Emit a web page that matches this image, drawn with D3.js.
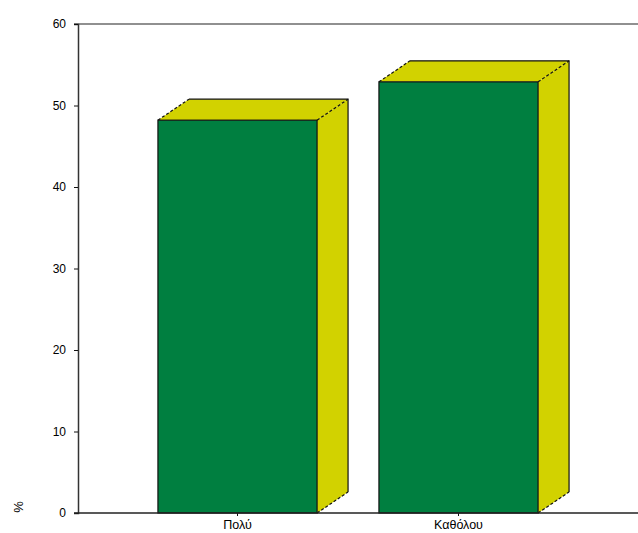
<!DOCTYPE html>
<html><head><meta charset="utf-8">
<script src="https://cdn.jsdelivr.net/npm/d3@7"></script>
<style>
html,body{margin:0;padding:0;background:#fff;}
svg{display:block;}
text{font-family:"Liberation Sans",Arial,sans-serif;fill:#000;}
</style></head>
<body>
<svg id="c" width="638" height="533"></svg>
<script>
const categories = ["Πολύ", "Καθόλου"];
const values = [48.2, 52.9];
const yTicks = [0, 10, 20, 30, 40, 50, 60];
const yLabel = "%";

const W = 638, H = 533;
const svg = d3.select("#c");
const x0 = 78, yTop = 24, yBottom = 513;
const depthX = 31, depthY = -21;

const x = d3.scaleBand().domain(categories).range([127, 569]).paddingInner(0.28).paddingOuter(0.14);
const y = d3.scaleLinear().domain([0, 60]).range([yBottom, yTop]);

// frame top line
svg.append("line").attr("x1", x0 - 4).attr("x2", W).attr("y1", yTop).attr("y2", yTop)
  .attr("stroke", "#222").attr("stroke-width", 1.2);

// bars
const g = svg.append("g");
categories.forEach((c, i) => {
  const xl = x(c), xr = x(c) + x.bandwidth();
  const yt = y(values[i]), yb = y(0);
  g.append("path")
    .attr("d", `M${xr},${yb} L${xr + depthX},${yb + depthY} L${xr + depthX},${yt + depthY} L${xr},${yt} Z`)
    .attr("fill", "#d2d200").attr("stroke", "none");
  g.append("path")
    .attr("d", `M${xl},${yt} L${xl + depthX},${yt + depthY} L${xr + depthX},${yt + depthY} L${xr},${yt} Z`)
    .attr("fill", "#d2d200").attr("stroke", "none");
  g.append("path")
    .attr("d", `M${xl + depthX},${yt + depthY} L${xr + depthX},${yt + depthY} L${xr + depthX},${yb + depthY}`)
    .attr("fill", "none").attr("stroke", "#111").attr("stroke-width", 1.2);
  [[xl, yt], [xr, yt], [xr, yb]].forEach(p => {
    g.append("line").attr("x1", p[0]).attr("y1", p[1])
      .attr("x2", p[0] + depthX).attr("y2", p[1] + depthY)
      .attr("stroke", "#111").attr("stroke-width", 1.2).attr("stroke-dasharray", "3,2");
  });
  g.append("rect").attr("x", xl).attr("y", yt).attr("width", x.bandwidth()).attr("height", yb - yt)
    .attr("fill", "#007f40").attr("stroke", "#111").attr("stroke-width", 1.2);
});

// y axis
const yAxis = svg.append("g").attr("transform", `translate(${x0},0)`)
  .call(d3.axisLeft(y).tickValues(yTicks).tickSize(4).tickPadding(8).tickFormat(d3.format("d")));
yAxis.select(".domain").attr("stroke", "#333").attr("stroke-width", 1.5);
yAxis.selectAll(".tick line").attr("stroke", "#111");
yAxis.selectAll("text").style("font-size", "12px").style("font-family", "\"Liberation Sans\",Arial,sans-serif").attr("fill", "#000");

// x axis
const xAxis = svg.append("g").attr("transform", `translate(0,${yBottom})`)
  .call(d3.axisBottom(x).tickSize(3).tickPadding(4));
xAxis.select(".domain").remove();
xAxis.append("line").attr("x1", x0 - 4).attr("x2", W).attr("y1", 0).attr("y2", 0)
  .attr("stroke", "#222").attr("stroke-width", 1.5);
xAxis.selectAll(".tick line").attr("stroke", "#111");
xAxis.selectAll("text").style("font-size", "12.5px").style("font-family", "\"Liberation Sans\",Arial,sans-serif").attr("fill", "#000");

// y label
svg.append("text").attr("transform", "translate(23,507) rotate(-90)")
  .attr("text-anchor", "middle").style("font-size", "13px").text(yLabel);
</script>
</body></html>
